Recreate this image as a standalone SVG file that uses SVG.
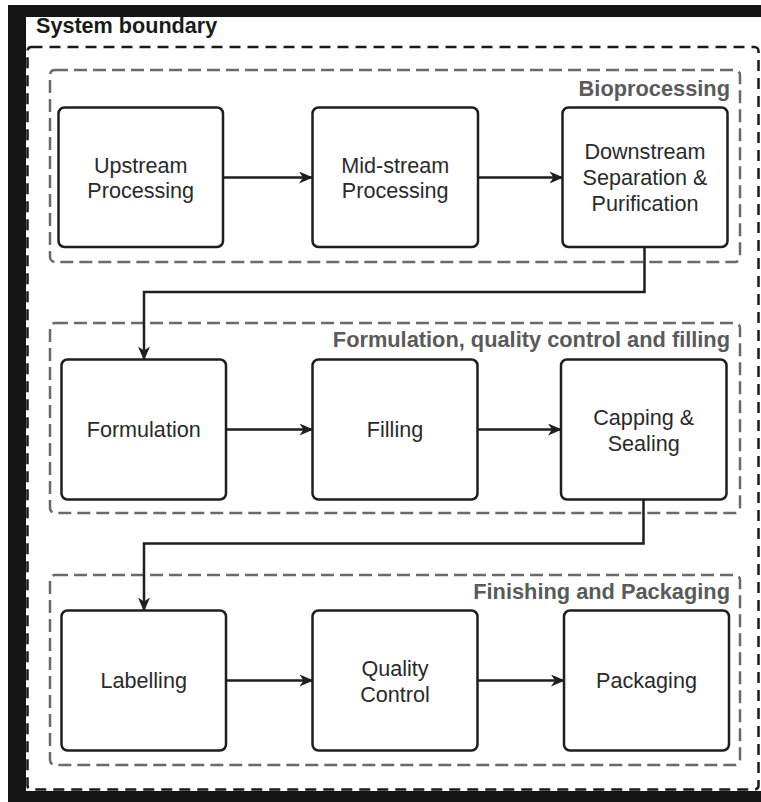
<svg xmlns="http://www.w3.org/2000/svg" width="761" height="802" viewBox="0 0 761 802">
  <style>
    .node rect { fill: #ffffff; stroke: #1e1e1e; stroke-width: 2.5; }
    .node text { font-family: "Liberation Sans", Arial, sans-serif; font-size: 21.6px; fill: #2a2a2a; text-anchor: middle; }
    .group rect { fill: none; stroke: #6a6a6a; stroke-width: 2.5; stroke-dasharray: 13 6; }
    .group text { font-family: "Liberation Sans", Arial, sans-serif; font-size: 21.8px; font-weight: bold; fill: #5a5a5a; text-anchor: end; }
    .edge { fill: none; stroke: #1e1e1e; stroke-width: 2.5; }
    .title { font-family: "Liberation Sans", Arial, sans-serif; font-size: 21.6px; font-weight: bold; fill: #1a1a1a; }
  </style>
  <defs>
    <marker id="arrow" markerUnits="userSpaceOnUse" markerWidth="16" markerHeight="14" refX="13" refY="6" orient="auto">
      <path d="M0,0 L14,6 L0,12 L4,6 Z" fill="#1e1e1e"/>
    </marker>
  </defs>

  <rect x="0" y="0" width="761" height="802" fill="#ffffff"/>
  <rect x="8" y="5" width="753" height="797" fill="#141414"/>
  <rect x="26" y="17" width="735" height="774" fill="#ffffff"/>

  <g id="system-boundary">
    <rect x="27.5" y="47" width="731" height="742.5" rx="4" fill="none" stroke="#1a1a1a" stroke-width="2.5" stroke-dasharray="11 7"/>
    <text class="title" x="36" y="33">System boundary</text>
  </g>

  <g id="group-bioprocessing" class="group">
    <rect x="50" y="70" width="690" height="192" rx="5"/>
    <text x="730" y="96">Bioprocessing</text>
  </g>
  <g id="group-formulation" class="group">
    <rect x="50" y="323" width="690" height="190" rx="5"/>
    <text x="730" y="347">Formulation, quality control and filling</text>
  </g>
  <g id="group-finishing" class="group">
    <rect x="50" y="575" width="690" height="190" rx="5"/>
    <text x="730" y="599">Finishing and Packaging</text>
  </g>

  <g id="connectors">
    <path class="edge" d="M223,177.5 H312" marker-end="url(#arrow)"/>
    <path class="edge" d="M478,177.5 H562.5" marker-end="url(#arrow)"/>
    <path class="edge" d="M644.5,247 V292 H144 V359.5" marker-end="url(#arrow)"/>
    <path class="edge" d="M226,429.5 H312.5" marker-end="url(#arrow)"/>
    <path class="edge" d="M477.5,429.5 H561" marker-end="url(#arrow)"/>
    <path class="edge" d="M643.5,499.5 V543.5 H144 V610.5" marker-end="url(#arrow)"/>
    <path class="edge" d="M226,680.5 H312.5" marker-end="url(#arrow)"/>
    <path class="edge" d="M477.5,680.5 H564" marker-end="url(#arrow)"/>
  </g>

  <g id="upstream" class="node">
    <rect x="58.5" y="107.5" width="164.5" height="139.5" rx="6"/>
    <text x="140.7" y="172.5">Upstream</text>
    <text x="140.7" y="198">Processing</text>
  </g>
  <g id="midstream" class="node">
    <rect x="312.5" y="107.5" width="165.5" height="139.5" rx="6"/>
    <text x="395.2" y="172.5">Mid-stream</text>
    <text x="395.2" y="198">Processing</text>
  </g>
  <g id="downstream" class="node">
    <rect x="562.5" y="107.5" width="165" height="139.5" rx="6"/>
    <text x="645" y="159">Downstream</text>
    <text x="645" y="185">Separation &amp;</text>
    <text x="645" y="211">Purification</text>
  </g>

  <g id="formulation" class="node">
    <rect x="61.5" y="359.5" width="164.5" height="140" rx="6"/>
    <text x="143.7" y="437">Formulation</text>
  </g>
  <g id="filling" class="node">
    <rect x="312.5" y="359.5" width="165" height="140" rx="6"/>
    <text x="395" y="437">Filling</text>
  </g>
  <g id="capping" class="node">
    <rect x="561" y="359.5" width="165.5" height="140" rx="6"/>
    <text x="643.7" y="425">Capping &amp;</text>
    <text x="643.7" y="451">Sealing</text>
  </g>

  <g id="labelling" class="node">
    <rect x="61.5" y="610.5" width="164.5" height="140" rx="6"/>
    <text x="143.7" y="688">Labelling</text>
  </g>
  <g id="quality-control" class="node">
    <rect x="312.5" y="610.5" width="165" height="140" rx="6"/>
    <text x="395" y="676">Quality</text>
    <text x="395" y="702">Control</text>
  </g>
  <g id="packaging" class="node">
    <rect x="564" y="610.5" width="165" height="140" rx="6"/>
    <text x="646.5" y="688">Packaging</text>
  </g>
</svg>
